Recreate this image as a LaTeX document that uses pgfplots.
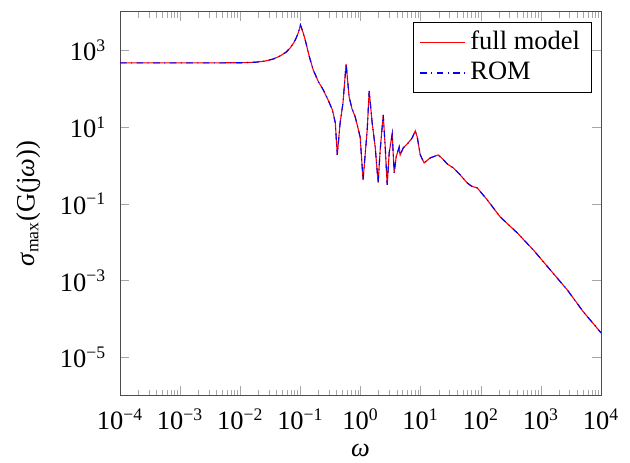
\documentclass[border=0pt,12pt]{standalone}
\usepackage{fontspec}
\setmainfont{Liberation Serif}
\usepackage{pgfplots}
\pgfplotsset{compat=1.18}
\begin{document}
\begin{tikzpicture}
\begin{axis}[
  scale only axis,
  width=218pt, height=174pt,
  xmode=log, ymode=log,
  xmin=1e-4, xmax=1e4, ymin=1e-6, ymax=1e4,
  xtick={1e-4,1e-3,1e-2,1e-1,1,1e1,1e2,1e3,1e4},
  xticklabels={10\textsuperscript{−4},10\textsuperscript{−3},10\textsuperscript{−2},10\textsuperscript{−1},10\textsuperscript{0},10\textsuperscript{1},10\textsuperscript{2},10\textsuperscript{3},10\textsuperscript{4}},
  ytick={1e-5,1e-3,1e-1,1e1,1e3},
  yticklabels={10\textsuperscript{−5},10\textsuperscript{−3},10\textsuperscript{−1},10\textsuperscript{1},10\textsuperscript{3}},
  yminorticks=false,
  xticklabel style={yshift=-1.5pt},
  yticklabel style={xshift=-2pt},
  xlabel={\textit{ω}},
  ylabel={\textit{σ}\textsubscript{max}(G(j\textit{ω}))},
  xlabel style={at={(axis description cs:0.5,-0.143)}, anchor=center},
  ylabel style={at={(axis description cs:-0.191,0.5)}, anchor=center},
  legend style={at={(0.98,0.975)}, anchor=north east},
  legend cell align=left,
  legend image code/.code={\draw[#1] (0cm,0cm) -- (0.72cm,0cm);},
  tick style={gray!70},
  axis line style={black!70},
]
\pgfplotstableread{
w s
1e-4 470
1e-3 470
1e-2 474
0.018 490
0.0257 525
0.035 590
0.046 714
0.058 900
0.0675 1150
0.078 1600
0.085 2090
0.093 3000
0.1 4600
0.11 3000
0.12 1870
0.14 700
0.163 309
0.2 150
0.239 94
0.29 50
0.339 28.4
0.36 19
0.38 12.9
0.41 1.89
0.457 12.9
0.51 42.7
0.575 443
0.645 61.6
0.72 30
0.813 18.6
0.984 5.56
1.10 0.42
1.29 8.46
1.39 87.3
1.56 12.9
1.75 3.05
1.96 0.355
2.12 2.55
2.38 20.9
2.57 3.05
2.77 0.313
2.99 2.13
3.36 6.65
3.62 0.64
3.91 1.67
4.39 3.05
4.56 1.89
5.12 2.87
6.2 3.88
7.22 5.24
8.11 7.96
8.75 5.56
9.82 1.89
11.4 1.17
14.4 1.58
19.6 1.89
23 1.5
27.6 1.10
34.8 0.866
45.4 0.569
59.4 0.352
70 0.29
87.2 0.261
128 0.127
210 0.0457
403 0.0176
745 0.00634
1429 0.00191
2742 5.75e-4
5058 1.55e-4
1e4 4.37e-5
}\datatable
\addplot[red, line width=0.5pt] table[x=w, y=s] {\datatable};
\addlegendentry{full model}
\addplot[blue, line width=0.5pt, dash dot] table[x=w, y=s] {\datatable};
\addlegendentry{ROM}
\end{axis}
\pgfresetboundingbox
\path ([xshift=-54.4pt,yshift=-30.4pt]current axis.south west) rectangle ([xshift=13.1pt,yshift=5.4pt]current axis.north east);
\end{tikzpicture}
\end{document}
